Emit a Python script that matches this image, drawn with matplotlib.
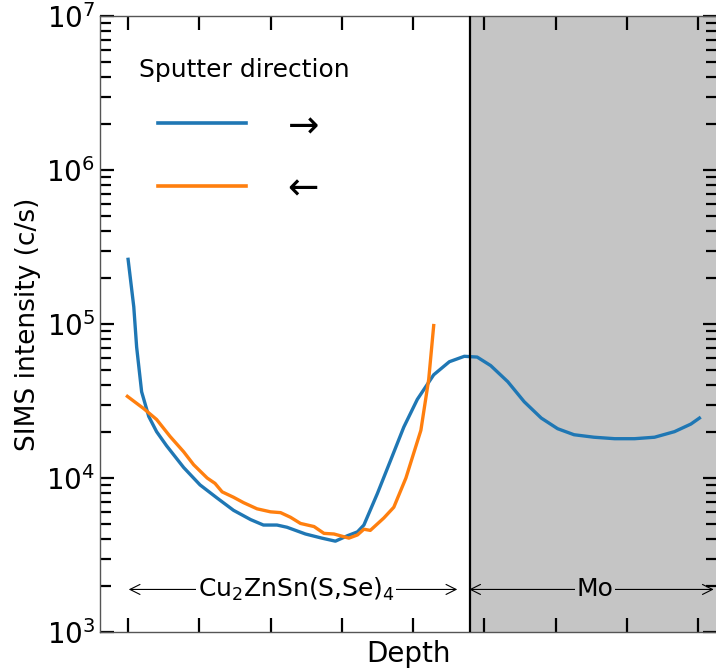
import matplotlib
matplotlib.use('Agg')
import matplotlib.pyplot as plt
from matplotlib.lines import Line2D

# depth (arb. units, tick spacing = 1) and SIMS intensity (c/s)
depth_fwd = [0.00, 0.08, 0.12, 0.19, 0.29, 0.40, 0.54, 0.78, 1.01, 1.25, 1.48, 1.72,
             1.90, 2.09, 2.23, 2.49, 2.72, 2.91, 3.08, 3.22, 3.31, 3.50, 3.69, 3.87,
             4.06, 4.29, 4.51, 4.72, 4.90, 5.09, 5.33, 5.56, 5.80, 6.03, 6.26, 6.54,
             6.83, 7.11, 7.39, 7.67, 7.90, 8.02]
sims_fwd = [263000, 129000, 70800, 36300, 25100, 20000, 16200, 11700, 9020, 7410, 6170, 5370,
            4950, 4950, 4790, 4330, 4070, 3890, 4220, 4470, 4950, 7940, 13200, 21400,
            32400, 46800, 56900, 61700, 61000, 53700, 42200, 31300, 24500, 20900, 19100, 18400,
            18000, 18000, 18400, 20000, 22400, 24500]

depth_rev = [-0.01, 0.22, 0.40, 0.59, 0.78, 0.92, 1.11, 1.22, 1.32, 1.48, 1.62, 1.81,
             2.00, 2.14, 2.28, 2.42, 2.61, 2.75, 2.89, 3.10, 3.22, 3.31, 3.40, 3.59,
             3.73, 3.90, 4.11, 4.22, 4.29]
sims_rev = [33900, 28200, 24000, 18600, 14800, 12200, 10000, 9230, 8130, 7500, 6920, 6310,
            6030, 5960, 5560, 5070, 4840, 4370, 4330, 4070, 4270, 4650, 4570, 5500,
            6460, 10000, 20400, 43700, 97700]

interface = 4.80
x_ticks = [0, 1, 2, 3, 4, 5, 6, 7, 8]

fig = plt.figure(figsize=(7.16, 6.72), dpi=100)
ax = fig.add_axes([0.1397, 0.0595, 0.862, 0.9167])

ax.set_xlim(-0.394, 8.27)
ax.set_ylim(1e3, 1e7)
ax.set_yscale('log')

ax.axvspan(interface, 8.27, color='#c5c5c5', zorder=0)
ax.axvline(interface, color='k', lw=1.6, zorder=3)

ax.plot(depth_fwd, sims_fwd, color='#1f77b4', lw=2.4, zorder=2)
ax.plot(depth_rev, sims_rev, color='#ff7f0e', lw=2.4, zorder=2)

# layer annotations
ax.annotate('', xy=(-0.03, 1890), xytext=(4.66, 1890),
            arrowprops=dict(arrowstyle='<->', color='k', lw=0.8, mutation_scale=18))
ax.annotate('', xy=(4.75, 1890), xytext=(8.26, 1890),
            arrowprops=dict(arrowstyle='<->', color='k', lw=0.8, mutation_scale=18))
ax.text(2.36, 1890, r'Cu$_2$ZnSn(S,Se)$_4$', ha='center', va='center', fontsize=18,
        bbox=dict(facecolor='white', edgecolor='none', pad=1))
ax.text(6.55, 1890, 'Mo', ha='center', va='center', fontsize=18,
        bbox=dict(facecolor='#c5c5c5', edgecolor='none', pad=1))

# legend
handles = [Line2D([], [], color='#1f77b4', lw=2.6),
           Line2D([], [], color='#ff7f0e', lw=2.6)]
leg = ax.legend(handles, ['→ ', '← '], title='Sputter direction',
                loc='upper left', bbox_to_anchor=(0.009, 0.986), frameon=False,
                fontsize=27, title_fontsize=18, handlelength=2.35, handletextpad=1.12,
                labelspacing=0.70)

ax.set_xticks(x_ticks)
ax.set_xticklabels([])
ax.tick_params(axis='x', which='major', direction='in', length=10, width=1.6,
               top=True, bottom=True)
ax.tick_params(axis='y', which='both', direction='in', length=10, width=1.6,
               left=True, right=True, labelsize=20)
ax.tick_params(axis='y', which='minor', length=8)
for s in ax.spines.values():
    s.set_color('#555555')
    s.set_linewidth(1.0)

ax.set_xlabel('Depth', fontsize=20, labelpad=2)
ax.set_ylabel('SIMS intensity (c/s)', fontsize=19, labelpad=4)

fig.savefig('out.png', dpi=100)
